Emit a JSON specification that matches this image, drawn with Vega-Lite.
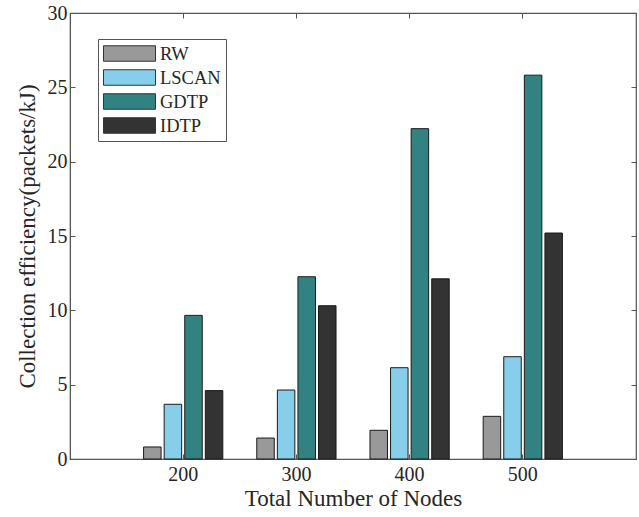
{
  "$schema": "https://vega.github.io/schema/vega-lite/v6.json",
  "width": 566,
  "height": 446,
  "autosize": {"type": "none"},
  "padding": {"left": 70, "top": 13, "right": 3, "bottom": 58},
  "background": "white",
  "config": {
    "font": "Liberation Serif",
    "view": {"stroke": "#555555", "strokeWidth": 1.2},
    "axis": {"domainColor": "#555555", "tickColor": "#555555", "labelColor": "#262626", "titleColor": "#262626", "labelFont": "Liberation Serif", "titleFont": "Liberation Serif", "grid": false}
  },
  "data": {
    "values": [
      {"nodes": "200", "method": "RW", "value": 0.81},
      {"nodes": "200", "method": "LSCAN", "value": 3.68},
      {"nodes": "200", "method": "GDTP", "value": 9.66},
      {"nodes": "200", "method": "IDTP", "value": 4.6},
      {"nodes": "300", "method": "RW", "value": 1.41},
      {"nodes": "300", "method": "LSCAN", "value": 4.64},
      {"nodes": "300", "method": "GDTP", "value": 12.26},
      {"nodes": "300", "method": "IDTP", "value": 10.31},
      {"nodes": "400", "method": "RW", "value": 1.93},
      {"nodes": "400", "method": "LSCAN", "value": 6.14},
      {"nodes": "400", "method": "GDTP", "value": 22.22},
      {"nodes": "400", "method": "IDTP", "value": 12.12},
      {"nodes": "500", "method": "RW", "value": 2.87},
      {"nodes": "500", "method": "LSCAN", "value": 6.88},
      {"nodes": "500", "method": "GDTP", "value": 25.82},
      {"nodes": "500", "method": "IDTP", "value": 15.2}
    ]
  },
  "encoding": {
    "xOffset": {
      "field": "method", "type": "nominal",
      "sort": ["RW", "LSCAN", "GDTP", "IDTP"],
      "scale": {"paddingInner": 0.15, "paddingOuter": 0}
    }
  },
  "layer": [
    {
      "mark": {"type": "bar", "stroke": "#1a1a1a", "strokeWidth": 1},
      "encoding": {
        "x": {
          "field": "nodes", "type": "nominal",
          "scale": {"paddingInner": 0.3, "paddingOuter": 0.65},
          "axis": {"title": "Total Number of Nodes", "labelAngle": 0, "tickSize": -5, "labelPadding": 10, "labelFontSize": 20, "titleFontSize": 23, "titleFontWeight": "normal", "titlePadding": 3}
        },
        "y": {
          "field": "value", "type": "quantitative",
          "scale": {"domain": [0, 30], "nice": false},
          "axis": {"title": "Collection efficiency(packets/kJ)", "values": [0, 5, 10, 15, 20, 25, 30], "tickSize": -5, "labelPadding": 8, "labelFontSize": 20, "titleFontSize": 23, "titleFontWeight": "normal", "titlePadding": 8}
        },
        "fill": {
          "field": "method", "type": "nominal",
          "sort": ["RW", "LSCAN", "GDTP", "IDTP"],
          "scale": {"domain": ["RW", "LSCAN", "GDTP", "IDTP"], "range": ["#999999", "#87CEEB", "#328282", "#333333"]},
          "legend": {
            "orient": "none", "legendX": 28, "legendY": 26, "title": null,
            "symbolType": "M-1,-0.86H4.78V0.86H-1Z", "symbolSize": 324,
            "symbolStrokeColor": "#333333", "symbolStrokeWidth": 1,
            "labelFont": "Liberation Serif", "labelFontSize": 18.5, "labelColor": "#262626", "labelOffset": 38,
            "rowPadding": 3, "padding": 5,
            "strokeColor": "#555555", "fillColor": "white"
          }
        }
      }
    },
    {
      "mark": {"type": "bar", "opacity": 0},
      "encoding": {
        "x": {
          "field": "nodes", "type": "nominal",
          "scale": {"paddingInner": 0.3, "paddingOuter": 0.65},
          "axis": {"orient": "top", "title": null, "labels": false, "tickSize": -5, "domain": false}
        },
        "y": {
          "field": "value", "type": "quantitative",
          "scale": {"domain": [0, 30], "nice": false},
          "axis": {"orient": "right", "title": null, "labels": false, "values": [0, 5, 10, 15, 20, 25, 30], "tickSize": -5, "domain": false}
        }
      }
    }
  ],
  "resolve": {"axis": {"y": "independent", "x": "independent"}}
}
